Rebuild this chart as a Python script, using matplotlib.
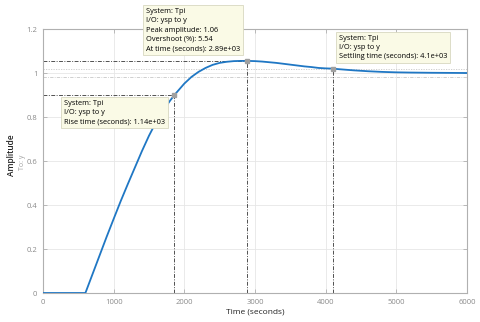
import matplotlib
matplotlib.use("Agg")
import matplotlib.pyplot as plt
import numpy as np

# Step response
time_s = [0, 600, 700, 800, 900, 1000, 1100, 1200, 1300, 1400, 1500, 1600, 1700, 1800, 1860, 1900,
          2000, 2100, 2200, 2300, 2400, 2500, 2600, 2700, 2800, 2890, 3000, 3100, 3200, 3300, 3400,
          3500, 3600, 3700, 3800, 3900, 4000, 4100, 4200, 4400, 4600, 4800, 5000, 5200, 5500, 6000]
amplitude = [0, 0, 0.085, 0.17, 0.255, 0.337, 0.418, 0.495, 0.57, 0.645, 0.715, 0.777, 0.83, 0.875, 0.9, 0.915,
             0.952, 0.982, 1.005, 1.023, 1.037, 1.046, 1.051, 1.054, 1.055, 1.055, 1.054, 1.052, 1.049, 1.046, 1.042,
             1.038, 1.034, 1.030, 1.027, 1.023, 1.021, 1.020, 1.017, 1.012, 1.008, 1.005, 1.003, 1.002, 1.001, 1.0]

rise_t, rise_y = 1860, 0.90
peak_t, peak_y = 2890, 1.055
settle_t, settle_y = 4100, 1.020
band_hi, band_lo = 1.02, 0.98

xticks = [0, 1000, 2000, 3000, 4000, 5000, 6000]
yticks = [0, 0.2, 0.4, 0.6, 0.8, 1.0, 1.2]
ytick_labels = ["0", "0.2", "0.4", "0.6", "0.8", "1", "1.2"]

plt.rcParams['font.family'] = ['Open Sans', 'DejaVu Sans']

fig = plt.figure(figsize=(4.8, 3.22), dpi=100)
ax = fig.add_axes([43/480, 1-293/322, (467-43)/480, (293-29)/322])

gray_tick = "#8a8a8a"
for s in ax.spines.values():
    s.set_color("#b0b0b0")
    s.set_linewidth(0.8)
ax.set_xlim(0, 6000)
ax.set_ylim(0, 1.2)
ax.set_xticks(xticks)
ax.set_xticklabels([str(v) for v in xticks])
ax.set_yticks(yticks)
ax.set_yticklabels(ytick_labels)
ax.tick_params(direction="in", length=3, width=0.6, colors="#b0b0b0", labelcolor=gray_tick,
               labelsize=5.5, top=True, right=True, pad=4)
ax.grid(True, color="#e6e6e6", linewidth=0.6)
ax.set_axisbelow(True)

# settling band
ax.axhline(band_hi, color="#c8c8c8", linestyle=(0, (1.5, 1.5)), linewidth=0.6)
ax.axhline(band_lo, color="#c8c8c8", linestyle=(0, (4, 1.5, 1, 1.5)), linewidth=0.6)

dc = "#505050"
dash = (0, (4, 1.5, 1, 1.5))
ax.plot([0, rise_t], [rise_y, rise_y], color=dc, linestyle=dash, linewidth=0.7)
ax.plot([rise_t, rise_t], [0, rise_y], color=dc, linestyle=dash, linewidth=0.7)
ax.plot([0, peak_t], [peak_y, peak_y], color=dc, linestyle=dash, linewidth=0.7)
ax.plot([peak_t, peak_t], [0, peak_y], color=dc, linestyle=dash, linewidth=0.7)
ax.plot([settle_t, settle_t], [0, settle_y], color=dc, linestyle=dash, linewidth=0.7)

ax.plot(time_s, amplitude, color="#1f77c4", linewidth=1.3, zorder=3)
ax.plot([rise_t, peak_t, settle_t], [rise_y, peak_y, settle_y], "s", color="#a0a0a0",
        markersize=3.5, zorder=4)

ax.set_xlabel("Time (seconds)", fontsize=6, color="#222222")
ax.xaxis.set_label_coords(0.5, -0.06)
ax.set_ylabel("")
fig.text(12/480, 1-155/322, "Amplitude", fontsize=6, color="#222222", rotation=90,
         ha="center", va="center", fontweight="semibold")
fig.text(23/480, 1-162/322, "To: y", fontsize=5, color="#a0a0a0", rotation=90, ha="center", va="center")

box = dict(boxstyle="square,pad=0.4", fc="#fafae6", ec="#d8d8c0", lw=0.6)
fs = 5.3
fig.text(146/480, 1-8/322,
         "System: Tpi\nI/O: ysp to y\nPeak amplitude: 1.06\nOvershoot (%): 5.54\nAt time (seconds): 2.89e+03",
         fontsize=fs, va="top", ha="left", bbox=box, linespacing=1.45, zorder=10)
fig.text(64/480, 1-100/322,
         "System: Tpi\nI/O: ysp to y\nRise time (seconds): 1.14e+03",
         fontsize=fs, va="top", ha="left", bbox=box, linespacing=1.45, zorder=10)
fig.text(339/480, 1-35/322,
         "System: Tpi\nI/O: ysp to y\nSettling time (seconds): 4.1e+03",
         fontsize=fs, va="top", ha="left", bbox=box, linespacing=1.45, zorder=10)

fig.savefig("out.png", dpi=100)
